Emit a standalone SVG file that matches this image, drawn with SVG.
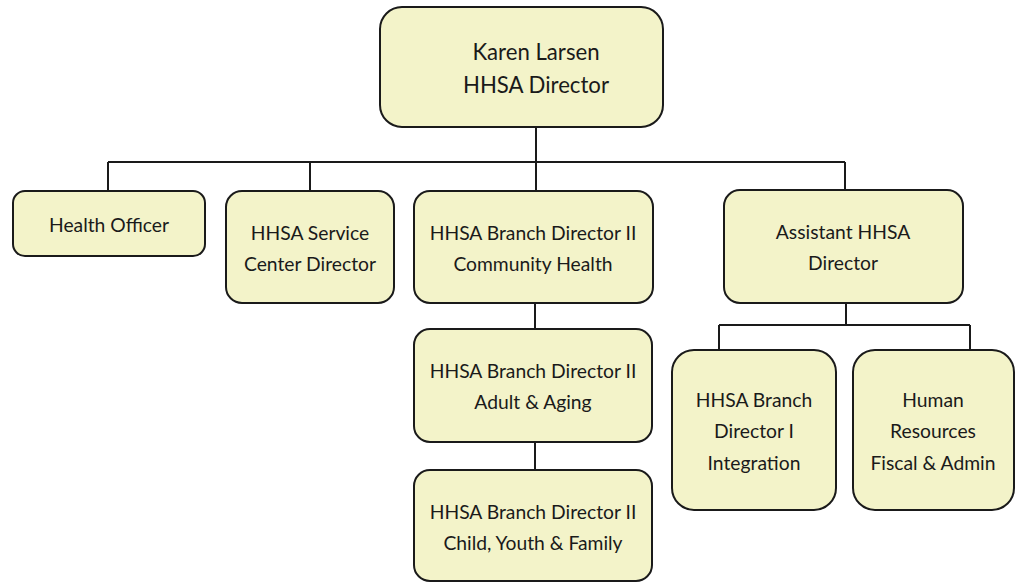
<svg xmlns="http://www.w3.org/2000/svg" width="1018" height="583" viewBox="0 0 1018 583">
  <style>
    .box { fill: #F3F3C9; stroke: #1a1a1a; stroke-width: 2; }
    .lbl { font-family: Lato, "Open Sans", "Liberation Sans", sans-serif; font-size: 19.3px; fill: #1a1a1a; text-anchor: middle; }
    .big { font-size: 22.2px; }
    .wire { fill: none; stroke: #1a1a1a; stroke-width: 2; }
  </style>
  <rect width="1018" height="583" fill="#ffffff"/>

  <g id="connectors">
    <path class="wire" d="M536 128 V162 M108 162 H845 M108 162 V191 M310 162 V191 M536 162 V191 M845 162 V190"/>
    <path class="wire" d="M535 303 V329 M535 442 V470"/>
    <path class="wire" d="M846 303 V325 M719 325 H970 M719 325 V350 M970 325 V350"/>
  </g>

  <g id="director">
    <rect class="box" x="380" y="7" width="283" height="120" rx="22"/>
    <text class="lbl big" x="536" y="60">Karen Larsen</text>
    <text class="lbl big" x="536" y="93">HHSA Director</text>
  </g>

  <g id="health-officer">
    <rect class="box" x="13" y="191" width="192" height="65" rx="12"/>
    <text class="lbl" x="109" y="232">Health Officer</text>
  </g>

  <g id="service-center">
    <rect class="box" x="226" y="191" width="168" height="112" rx="16"/>
    <text class="lbl" x="310" y="240">HHSA Service</text>
    <text class="lbl" x="310" y="271">Center Director</text>
  </g>

  <g id="community-health">
    <rect class="box" x="414" y="191" width="239" height="112" rx="16"/>
    <text class="lbl" x="533" y="240">HHSA Branch Director II</text>
    <text class="lbl" x="533" y="271">Community Health</text>
  </g>

  <g id="adult-aging">
    <rect class="box" x="414" y="329" width="238" height="113" rx="16"/>
    <text class="lbl" x="533" y="378">HHSA Branch Director II</text>
    <text class="lbl" x="533" y="409">Adult &amp; Aging</text>
  </g>

  <g id="child-youth-family">
    <rect class="box" x="414" y="470" width="238" height="111" rx="16"/>
    <text class="lbl" x="533" y="519">HHSA Branch Director II</text>
    <text class="lbl" x="533" y="550">Child, Youth &amp; Family</text>
  </g>

  <g id="assistant-director">
    <rect class="box" x="724" y="190" width="239" height="113" rx="16"/>
    <text class="lbl" x="843" y="239">Assistant HHSA</text>
    <text class="lbl" x="843" y="270">Director</text>
  </g>

  <g id="integration">
    <rect class="box" x="672" y="350" width="164" height="160" rx="22"/>
    <text class="lbl" x="754" y="407">HHSA Branch</text>
    <text class="lbl" x="754" y="438">Director I</text>
    <text class="lbl" x="754" y="470">Integration</text>
  </g>

  <g id="hr-fiscal-admin">
    <rect class="box" x="853" y="350" width="161" height="160" rx="22"/>
    <text class="lbl" x="933" y="407">Human</text>
    <text class="lbl" x="933" y="438">Resources</text>
    <text class="lbl" x="933" y="470">Fiscal &amp; Admin</text>
  </g>
</svg>
